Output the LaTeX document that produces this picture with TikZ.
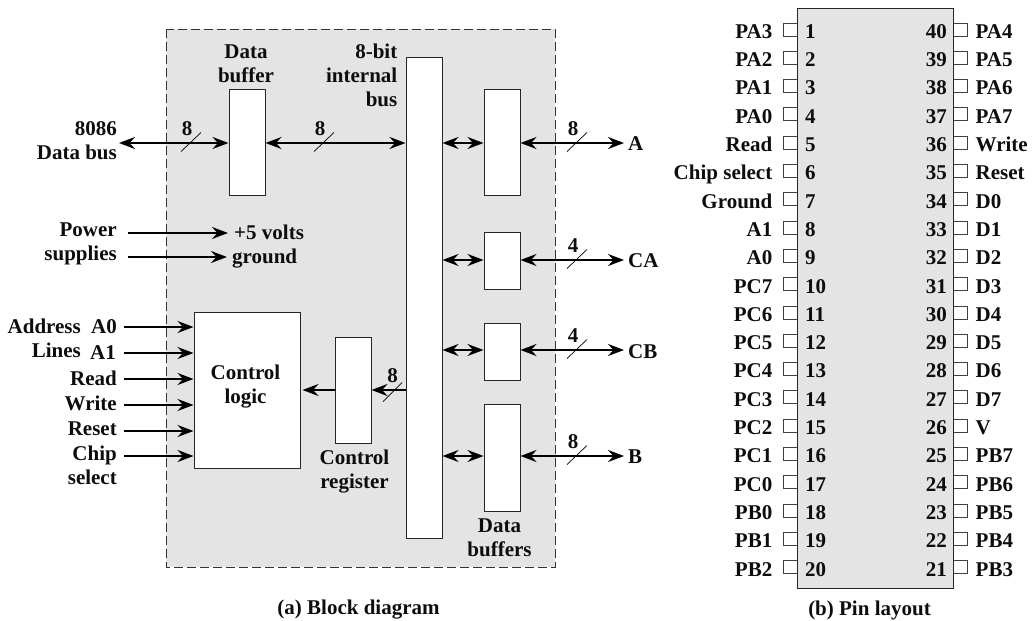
\documentclass[tikz,border=0pt]{standalone}
\usepackage{fontspec}
\setmainfont{Liberation Serif}
\usepackage{tikz}
\usetikzlibrary{positioning, arrows.meta}
\definecolor{panelgray}{HTML}{E4E4E4}
\tikzset{
    blockbox/.style={draw=black!85, fill=white, line width=1pt, inner sep=0pt},
    lbl/.style={font=\fontsize{21}{24}\selectfont\bfseries, inner sep=0pt, text=black!95},
    pinlbl/.style={lbl, text height=14pt, text depth=0pt},
    conn/.style={-{Stealth[length=16pt, width=12pt, inset=5.5pt]}, line width=2.2pt},
    biconn/.style={{Stealth[length=16pt, width=12pt, inset=5.5pt]}-{Stealth[length=16pt, width=12pt, inset=5.5pt]}, line width=2.2pt},
    slashmark/.style={line width=0.7pt},
    pinbox/.style={draw=black!75, line width=1pt, fill=white, minimum width=14pt, minimum height=13pt, inner sep=0pt}
}
\begin{document}
\begin{tikzpicture}[x=1pt, y=-1pt]
    \useasboundingbox (0,0) rectangle (1034,621);

    % Left panel: block diagram
    \draw[dash pattern=on 9pt off 4pt, line width=0.9pt, draw=black!80, fill=panelgray] (166,29) rectangle (555,567);

    % Blocks
    \node[blockbox, minimum width=36pt, minimum height=106pt] (dbuf) at (247,142.5) {};
    \node[blockbox, minimum width=36pt, minimum height=481pt] (bus) at (424,297.5) {};
    \node[blockbox, minimum width=36pt, minimum height=106pt] (bufA) at (502,142.5) {};
    \node[blockbox, minimum width=36pt, minimum height=57pt] (bufCA) at (502,260.5) {};
    \node[blockbox, minimum width=36pt, minimum height=57pt] (bufCB) at (502,351.5) {};
    \node[blockbox, minimum width=36pt, minimum height=107pt] (bufB) at (502,457.5) {};
    \node[blockbox, minimum width=106pt, minimum height=156pt] (ctrl) at (247,390) {};
    \node[blockbox, minimum width=36pt, minimum height=106pt] (creg) at (353,390) {};

    % Labels
    \node[lbl, align=center] (dbuflbl) at (246,63.5) {Data\\buffer};
    \node[lbl, align=right, anchor=north east] (buslbl) at (397.5,44) {8-bit\\internal\\bus};
    \node[lbl, align=right, anchor=east] (dbuslbl) at (117,141) {8086\\Data bus};
    \node[lbl, align=right, anchor=east] (pwrlbl) at (117,244) {Power\\supplies};
    \node[pinlbl, anchor=west] (fivelbl) at (234,232.5) {+5 volts};
    \node[pinlbl, anchor=west] (gndlbl) at (232,256.5) {ground};
    \node[lbl, align=center] at (245.5,386.5) (ctrllbl) {Control\\logic};
    \node[lbl, align=center] (creglbl) at (354.5,472) {Control\\register};
    \node[lbl, align=center] (datalbl) at (499.5,537.5) {Data\\buffers};
    \node[pinlbl, anchor=east] (addrlbl) at (81,326) {Address};
    \node[pinlbl, anchor=east] (lineslbl) at (81,350) {Lines};
    \node[pinlbl, anchor=east] (a0lbl) at (117,326.5) {A0};
    \node[pinlbl, anchor=east] (a1lbl) at (116,352) {A1};
    \node[pinlbl, anchor=east] (rdlbl) at (117,378) {Read};
    \node[pinlbl, anchor=east] (wrlbl) at (117,403) {Write};
    \node[pinlbl, anchor=east] (rstlbl) at (117,428) {Reset};
    \node[lbl, align=right, anchor=east] (cslbl) at (117,465) {Chip\\select};
    \node[pinlbl, anchor=west] (Albl) at (628,143.5) {A};
    \node[pinlbl, anchor=west] (CAlbl) at (628,260.5) {CA};
    \node[pinlbl, anchor=west] (CBlbl) at (628,351) {CB};
    \node[pinlbl, anchor=west] (Blbl) at (628,456.5) {B};
    \node[lbl] (cap1) at (358.5,610) {(a) Block diagram};
    \node[lbl] (cap2) at (869.5,610) {(b) Pin layout};

    % Free ends of connectors
    \coordinate (dbusend) at (119,143);
    \coordinate (fivestart) at (128,233);
    \coordinate (gndstart) at (128,257);
    \coordinate (fiveend) at (228,233);
    \coordinate (gndend) at (227,257);

    % Connectors
    \draw[biconn] (dbusend) -- (dbuf.west |- dbusend);
    \draw[biconn] (dbuf.east |- dbusend) -- (bus.west |- dbusend);
    \draw[conn] (fivestart) -- (fiveend);
    \draw[conn] (gndstart) -- (gndend);
    \foreach \yy/\nm in {327/a0lbl, 353/a1lbl, 379/rdlbl, 405/wrlbl, 431/rstlbl, 456/cslbl} {
        \coordinate (in\nm) at (123.5,\yy);
        \draw[conn] (in\nm) -- (ctrl.west |- in\nm);
    }
    \draw[conn] (bus.west |- creg.east) -- (creg.east);
    \draw[conn] (creg.west) -- ([xshift=2pt]ctrl.east |- creg.west);
    \foreach \blk/\nm/\yy in {bufA/Albl/143, bufCA/CAlbl/260, bufCB/CBlbl/350, bufB/Blbl/456} {
        \coordinate (lft\nm) at (bus.east |- 0,\yy);
        \draw[biconn] (lft\nm) -- (\blk.west |- lft\nm);
        \draw[biconn] (\blk.east |- lft\nm) -- ([xshift=-4pt]\nm.west |- lft\nm);
    }

    % Slashes and widths
    \foreach \xx/\yy/\bits in {181/143/8, 314/143/8, 567/143/8, 567/260/4, 567/350/4, 567/456/8} {
        \draw[slashmark] (\xx,\yy+8.5) -- ++(20,-19);
        \node[lbl] (wd\xx\yy) at (\xx+6,\yy-14.5) {\bits};
    }
    \draw[slashmark] (383,401.5) -- ++(19,-19);
    \node[lbl] (wdcreg) at (392.5,376) {8};

    % Right panel: pin layout
    \foreach \lname/\rname [count=\i from 0, evaluate=\i as \yy using 29.5+28.3*\i, evaluate=\i as \rnum using int(40-\i), evaluate=\i as \lnum using int(\i+1)] in
        {PA3/PA4, PA2/PA5, PA1/PA6, PA0/PA7, Read/Write, Chip select/Reset, Ground/D0, A1/D1, A0/D2, PC7/D3,
         PC6/D4, PC5/D5, PC4/D6, PC3/D7, PC2/V, PC1/PB7, PC0/PB6, PB0/PB5, PB1/PB4, PB2/PB3} {
        \node[pinbox] (pinl\lnum) at (790.5,\yy) {};
        \node[pinbox] (pinr\rnum) at (960,\yy) {};
        \node[pinlbl, anchor=east] (namel\lnum) at ([xshift=-10.5pt, yshift=-1.8pt]pinl\lnum.west) {\lname};
        \node[pinlbl, anchor=west] (namer\rnum) at ([xshift=8pt, yshift=-1.8pt]pinr\rnum.east) {\rname};
    }
    \draw[draw=black!85, line width=1pt, fill=panelgray] (797,8) rectangle (953,588);
    \foreach \i [evaluate=\i as \yy using 31.3+28.3*\i, evaluate=\i as \rnum using int(40-\i), evaluate=\i as \lnum using int(\i+1)] in {0,...,19} {
        \node[pinlbl, anchor=west] (numl\lnum) at (805,\yy) {\lnum};
        \node[pinlbl, anchor=east] (numr\rnum) at (947,\yy) {\rnum};
    }
\end{tikzpicture}
\end{document}
